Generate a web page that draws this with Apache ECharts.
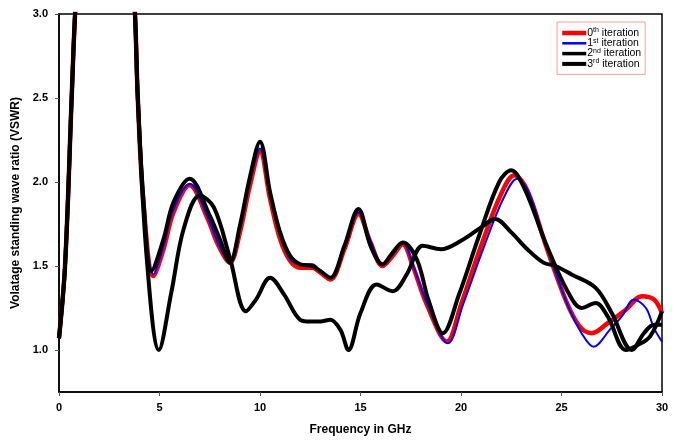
<!DOCTYPE html>
<html><head><meta charset="utf-8">
<script src="https://cdn.jsdelivr.net/npm/echarts@6/dist/echarts.min.js"></script>
<style>html,body{margin:0;padding:0;background:#fff}#c{width:681px;height:441px}</style>
</head><body><div id="c"></div>
<script>
const seriesNames = ['0th iteration', '1st iteration', '2nd iteration', '3rd iteration'];
const xTicks = [0, 5, 10, 15, 20, 25, 30];
const yTicks = [1.0, 1.5, 2.0, 2.5, 3.0];

const freq0 = [0,0.3,0.63,0.8,1.2,2.3,3.4,3.78,3.92,4.2,4.7,5.2,5.7,6.5,7.4,7.9,8.5,9.0,9.5,10.0,10.5,11.0,11.5,12.0,12.6,13.0,13.5,14.2,14.9,15.5,16.1,16.6,17.1,17.6,18.3,19.3,20.0,21.0,22.0,22.65,23.3,24.2,25.2,25.9,26.5,27.3,28.2,29.0,29.6,30];
const vswr0 = [1.07,1.5,2.5,3.0,3.8,5.0,3.8,3.0,2.5,1.88,1.44,1.6,1.82,1.98,1.78,1.63,1.52,1.7,1.98,2.18,1.9,1.66,1.53,1.49,1.49,1.46,1.42,1.6,1.81,1.64,1.5,1.56,1.63,1.5,1.27,1.05,1.27,1.62,1.93,2.04,1.95,1.63,1.30,1.14,1.10,1.16,1.24,1.32,1.3,1.22];

const freq1 = [0,0.3,0.63,0.8,1.2,2.3,3.4,3.78,3.92,4.2,4.7,5.2,5.7,6.5,7.4,7.9,8.5,9.0,9.5,10.0,10.5,11.0,11.5,12.0,12.6,13.0,13.5,14.2,14.9,15.5,16.1,16.6,17.1,17.6,18.3,19.35,20.1,21.1,22.1,22.8,23.4,24.3,25.3,26.0,26.6,27.4,28.0,28.6,29.2,29.6,30];
const vswr1 = [1.07,1.5,2.5,3.0,3.8,5.0,3.8,3.0,2.5,1.89,1.45,1.62,1.84,1.99,1.79,1.64,1.52,1.72,2.0,2.2,1.92,1.68,1.54,1.51,1.51,1.47,1.43,1.61,1.82,1.65,1.51,1.57,1.64,1.51,1.28,1.04,1.27,1.6,1.9,2.02,1.93,1.6,1.27,1.1,1.02,1.12,1.2,1.3,1.25,1.13,1.05];

const freq2 = [0,0.3,0.63,0.8,1.2,2.3,3.4,3.78,3.92,4.2,4.6,5.2,5.7,6.5,7.5,8.0,8.5,9.0,9.5,10.0,10.5,11.0,11.5,12.0,12.6,13.0,13.5,14.2,14.9,15.5,16.1,16.6,17.1,17.8,18.4,19.1,19.9,20.9,21.9,22.5,23.2,24.2,25.3,26.0,26.7,27.3,28.2,28.8,29.4,30];
const vswr2 = [1.07,1.5,2.5,3.0,3.8,5.0,3.8,3.0,2.5,1.9,1.47,1.66,1.88,2.02,1.80,1.66,1.52,1.74,2.03,2.24,1.94,1.70,1.56,1.51,1.50,1.47,1.43,1.62,1.84,1.62,1.51,1.58,1.64,1.54,1.29,1.1,1.33,1.68,2.0,2.07,1.95,1.64,1.35,1.25,1.28,1.2,1.0,1.03,1.08,1.23];

const freq3 = [0,0.3,0.63,0.8,1.2,2.3,3.4,3.78,3.92,4.37,4.97,5.6,6.2,7.0,7.7,8.5,9.3,9.8,10.5,11.2,12.0,12.5,13.0,13.5,14.0,14.4,15.0,15.8,16.6,17.3,18.1,19.0,20.0,21.0,21.7,22.5,23.3,24.1,24.7,25.5,26.7,27.5,28.5,29.1,29.6,30];
const vswr3 = [1.07,1.5,2.5,3.0,3.8,5.0,3.8,3.0,2.5,1.54,1.0,1.35,1.72,1.92,1.85,1.55,1.23,1.3,1.43,1.33,1.18,1.17,1.17,1.18,1.12,1.0,1.22,1.39,1.35,1.45,1.62,1.6,1.65,1.73,1.78,1.7,1.6,1.52,1.5,1.45,1.37,1.22,1.0,1.1,1.15,1.15];

const freqs = [freq0, freq1, freq2, freq3];
const vals = [vswr0, vswr1, vswr2, vswr3];
const colors = ['#ff0000', '#0000ff', '#000000', '#000000'];
const widths = [4.5, 2, 4, 4];
const legendWidths = [4.5, 2.5, 3.5, 4];

const chart = echarts.init(document.getElementById('c'), null, {renderer: 'canvas'});
const font = '"Liberation Sans", Arial, sans-serif';
chart.setOption({
  animation: false,
  backgroundColor: '#fff',
  grid: {left: 59, right: 19, top: 14, bottom: 48, show: true, borderColor: '#000', borderWidth: 1.5, backgroundColor: 'transparent'},
  legend: {
    orient: 'vertical', left: 557, top: 22,
    data: seriesNames.map((n, i) => ({name: n, lineStyle: {width: legendWidths[i], color: colors[i]}})),
    itemWidth: 24, itemHeight: 8, itemGap: -1.2,
    padding: [5, 4, 5, 3],
    borderColor: '#f2a0a0', borderWidth: 1, backgroundColor: '#fff',
    itemStyle: {opacity: 0},
    formatter: function (n) {
      const m = n.match(/^(\d)(\w+) (.*)$/);
      return '{b|' + m[1] + '}{s|' + m[2] + '}{b| ' + m[3] + '}';
    },
    textStyle: {
      fontFamily: font, color: '#000', padding: [0, 0, 0, -4],
      rich: {
        b: {fontSize: 10.5, fontFamily: font, color: '#000', lineHeight: 12, verticalAlign: 'middle'},
        s: {fontSize: 7, fontFamily: font, color: '#000', lineHeight: 12, verticalAlign: 'top'}
      }
    }
  },
  xAxis: {
    type: 'value', min: 0, max: 30, interval: 5,
    name: 'Frequency in GHz', nameLocation: 'middle', nameGap: 32,
    nameTextStyle: {fontFamily: font, fontWeight: 'bold', fontSize: 12, color: '#000'},
    axisLine: {show: true, onZero: false, lineStyle: {color: '#000', width: 1.5}},
    axisTick: {show: true, inside: false, length: 4, lineStyle: {color: '#555', width: 1}},
    axisLabel: {fontFamily: font, fontWeight: 'bold', fontSize: 11, color: '#000', margin: 10,
      customValues: xTicks},
    splitLine: {show: false}
  },
  yAxis: {
    type: 'value', min: 0.75, max: 3.0,
    name: 'Volatage standing wave ratio (VSWR)', nameLocation: 'middle', nameGap: 35,
    nameTextStyle: {fontFamily: font, fontWeight: 'bold', fontSize: 12, color: '#000'},
    axisLine: {show: true, onZero: false, lineStyle: {color: '#000', width: 1.5}},
    axisTick: {show: true, inside: false, length: 4, lineStyle: {color: '#555', width: 1}, customValues: yTicks},
    axisLabel: {fontFamily: font, fontWeight: 'bold', fontSize: 11, color: '#000', margin: 11,
      customValues: yTicks, formatter: v => v.toFixed(1)},
    splitLine: {show: false}
  },
  series: seriesNames.map((name, i) => ({
    name: name, type: 'line', smooth: 0.35, symbol: 'none', clip: true,
    z: i < 2 ? 2 + i : 4 + i,
    color: colors[i],
    lineStyle: {color: colors[i], width: widths[i]},
    data: freqs[i].map((f, k) => [f, vals[i][k]])
  }))
});
</script></body></html>
